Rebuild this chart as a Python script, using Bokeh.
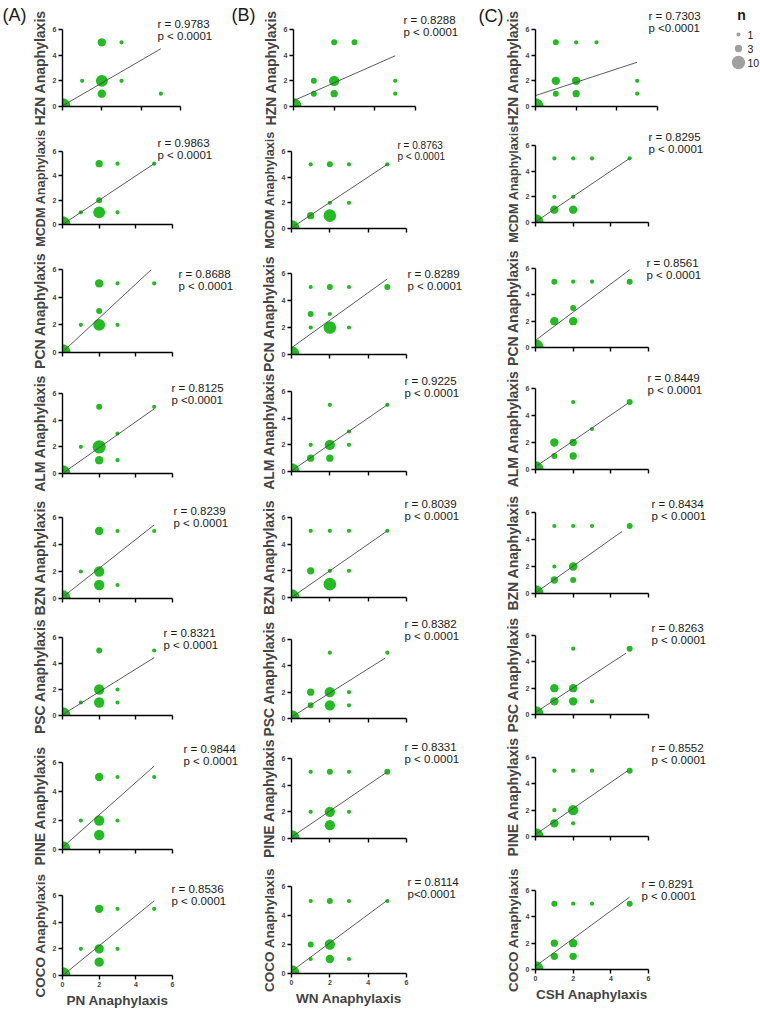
import math

from bokeh.embed import file_html
from bokeh.layouts import column, row
from bokeh.models import ColumnDataSource, FixedTicker, GridBox, Label, Range1d
from bokeh.plotting import figure
from bokeh.resources import INLINE

# ---------------------------------------------------------------- data
ALLERGENS = ["HZN", "MCDM", "PCN", "ALM", "BZN", "PSC", "PINE", "COCO"]
REFERENCES = ["PN", "WN", "CSH"]
PANEL_TAGS = ["(A)", "(B)", "(C)"]
TICKS = [0, 2, 4, 6]
LEGEND_N = [1, 3, 10]

# points as (x score, y score, number of patients)
PN_HZN = [(0, 0, 15), (1, 2, 1), (2, 5, 4), (2, 2, 8), (2, 1, 4), (3, 5, 1), (3, 2, 1), (5, 1, 1)]
PN_MCDM = [(0, 0, 15), (1, 1, 1), (2, 5, 3), (2, 2, 2), (2, 1, 8), (3, 5, 1), (3, 1, 1), (5, 5, 1)]
PN_PCN = [(0, 0, 15), (1, 2, 1), (2, 5, 4), (2, 3, 2), (2, 2, 8), (3, 5, 1), (3, 2, 1), (5, 5, 1)]
PN_ALM = [(0, 0, 15), (1, 2, 1), (2, 5, 2), (2, 2, 10), (2, 1, 4), (3, 3, 1), (3, 1, 1), (5, 5, 1)]
PN_BZN = [(0, 0, 15), (1, 2, 1), (2, 5, 4), (2, 2, 6), (2, 1, 6), (3, 5, 1), (3, 1, 1), (5, 5, 1)]
PN_PSC = [(0, 0, 15), (1, 1, 1), (2, 5, 2), (2, 2, 6), (2, 1, 6), (3, 2, 1), (3, 1, 1), (5, 5, 1)]
PN_PINE = [(0, 0, 15), (1, 2, 1), (2, 5, 4), (2, 2, 6), (2, 1, 6), (3, 5, 1), (3, 2, 1), (5, 5, 1)]
PN_COCO = [(0, 0, 15), (1, 2, 1), (2, 5, 4), (2, 2, 5), (2, 1, 5), (3, 5, 1), (3, 2, 1), (5, 5, 1)]

WN_HZN = [(0, 0, 15), (1, 2, 2), (1, 1, 2), (2, 5, 2), (2, 2, 6), (2, 1, 3), (3, 5, 2), (5, 2, 1), (5, 1, 1)]
WN_MCDM = [(0, 0, 15), (1, 5, 1), (1, 1, 3), (2, 5, 2), (2, 2, 1), (2, 1, 9), (3, 5, 1), (3, 2, 1), (5, 5, 1)]
WN_PCN = [(0, 0, 15), (1, 5, 1), (1, 3, 2), (1, 2, 1), (2, 5, 2), (2, 3, 1), (2, 2, 9), (3, 5, 1), (3, 2, 1), (5, 5, 2)]
WN_ALM = [(0, 0, 15), (1, 2, 1), (1, 1, 3), (2, 5, 1), (2, 2, 6), (2, 1, 3), (3, 3, 1), (3, 2, 1), (5, 5, 1)]
WN_BZN = [(0, 0, 15), (1, 5, 1), (2, 5, 1), (3, 5, 1), (5, 5, 1), (1, 2, 3), (2, 2, 1), (3, 2, 1), (2, 1, 9)]
WN_PSC = [(0, 0, 15), (2, 5, 1), (1, 2, 3), (2, 2, 6), (3, 2, 1), (1, 1, 2), (2, 1, 6), (3, 1, 1), (5, 5, 1)]
WN_PINE = [(0, 0, 15), (1, 5, 1), (2, 5, 2), (3, 5, 1), (5, 5, 2), (1, 2, 1), (2, 2, 6), (3, 2, 1), (2, 1, 6)]
WN_COCO = [(0, 0, 15), (1, 5, 1), (2, 5, 2), (3, 5, 1), (5, 5, 1), (1, 2, 2), (2, 2, 6), (2, 1, 4), (1, 1, 1), (3, 1, 1)]

CSH_HZN = [(0, 0, 15), (1, 5, 2), (2, 5, 1), (3, 5, 1), (1, 2, 4), (1, 1, 2), (2, 2, 4), (2, 1, 3), (5, 2, 1), (5, 1, 1)]
CSH_MCDM = [(0, 0, 15), (1, 5, 1), (2, 5, 1), (3, 5, 1), (5, 5, 1), (1, 2, 1), (2, 2, 1), (1, 1, 4), (2, 1, 4)]
CSH_PCN = [(0, 0, 15), (1, 5, 2), (2, 5, 1), (3, 5, 1), (5, 5, 2), (1, 2, 4), (2, 3, 2), (2, 2, 4)]
CSH_ALM = [(0, 0, 15), (1, 2, 4), (1, 1, 2), (2, 5, 1), (2, 2, 3), (2, 1, 3), (3, 3, 1), (5, 5, 2)]
CSH_BZN = [(0, 0, 15), (1, 5, 1), (2, 5, 1), (3, 5, 1), (5, 5, 2), (1, 2, 1), (2, 2, 4), (1, 1, 3), (2, 1, 2)]
CSH_PSC = [(0, 0, 15), (2, 5, 1), (5, 5, 2), (1, 2, 4), (2, 2, 4), (1, 1, 4), (2, 1, 4), (3, 1, 1)]
CSH_PINE = [(0, 0, 15), (1, 5, 1), (2, 5, 1), (3, 5, 1), (5, 5, 2), (1, 2, 1), (2, 2, 6), (1, 1, 4), (2, 1, 1)]
CSH_COCO = [(0, 0, 15), (1, 5, 2), (2, 5, 1), (3, 5, 1), (5, 5, 2), (1, 2, 3), (1, 1, 3), (2, 2, 4), (2, 1, 3)]

# fitted regression segments (x0, y0, x1, y1), one per allergen
PN_FIT = [(0, 0.05, 5, 4.5), (0.05, 0.05, 5, 5), (0.1, 0.15, 4.85, 6.0), (0.1, 0.1, 5, 4.85),
          (0.1, 0.2, 5, 5.45), (0.1, 0.15, 5, 4.45), (0.05, 0.2, 5, 5.75), (0.1, 0.1, 5, 5.6)]
WN_FIT = [(0, 0.45, 5, 3.95), (0.1, 0.15, 5, 5), (0, 0.5, 5, 5.6), (0.05, 0.1, 5, 5),
          (0.1, 0.1, 5, 5), (0.05, 0.15, 4.9, 4.6), (0.05, 0.15, 5, 5), (0.05, 0.2, 5, 5.05)]
CSH_FIT = [(0, 0.85, 5, 3.45), (0.05, 0.1, 5, 5), (0.05, 0.6, 5, 5.9), (0.1, 0.3, 4.9, 4.9),
           (0.05, 0.1, 4.6, 4.6), (0.05, 0.2, 4.8, 4.65), (0.05, 0.2, 4.9, 5.0), (0, 0.25, 5, 5.5)]

# correlation statistics
PN_R = ["0.9783", "0.9863", "0.8688", "0.8125", "0.8239", "0.8321", "0.9844", "0.8536"]
PN_P = ["p < 0.0001", "p < 0.0001", "p < 0.0001", "p <0.0001", "p  < 0.0001", "p < 0.0001", "p < 0.0001", "p < 0.0001"]
WN_R = ["0.8288", "0.8763", "0.8289", "0.9225", "0.8039", "0.8382", "0.8331", "0.8114"]
WN_P = ["p < 0.0001", "p < 0.0001", "p < 0.0001", "p < 0.0001", "p < 0.0001", "p < 0.0001", "p < 0.0001", "p<0.0001"]
CSH_R = ["0.7303", "0.8295", "0.8561", "0.8449", "0.8434", "0.8263", "0.8552", "0.8291"]
CSH_P = ["p <0.0001", "p < 0.0001", "p < 0.0001", "p < 0.0001", "p < 0.0001", "p < 0.0001", "p < 0.0001", "p < 0.0001"]

POINTS = [
    [PN_HZN, PN_MCDM, PN_PCN, PN_ALM, PN_BZN, PN_PSC, PN_PINE, PN_COCO],
    [WN_HZN, WN_MCDM, WN_PCN, WN_ALM, WN_BZN, WN_PSC, WN_PINE, WN_COCO],
    [CSH_HZN, CSH_MCDM, CSH_PCN, CSH_ALM, CSH_BZN, CSH_PSC, CSH_PINE, CSH_COCO],
]
FITS = [PN_FIT, WN_FIT, CSH_FIT]
R_VALUES = [PN_R, WN_R, CSH_R]
P_TEXTS = [PN_P, WN_P, CSH_P]

# ---------------------------------------------------------------- style / layout
PAGE_W, PAGE_H = 760, 1013
FONT = "Liberation Sans"
GREEN = "#22bb22"
FIT_COLOR = "#4a4a4a"
LEGEND_GREY = "#a0a0a0"
INK = "#1a1a1a"

# plot frames on the page: (left, right, top, bottom) in pixels
FRAMES = [
    [(62, 180, 29, 106), (62, 172, 151, 224), (61, 185, 269, 352), (59, 180, 393, 473),
     (59, 181, 517, 598), (58, 176, 637, 715), (62, 192, 762, 849), (59, 179, 895, 975)],
    [(293, 415, 25, 107), (290, 406, 151, 228), (290, 411, 273, 354), (291, 413, 391, 471),
     (290, 412, 517, 597), (290, 412, 639, 718), (290, 412, 758, 838), (290, 420, 886, 973)],
    [(535, 657, 26, 107), (535, 657, 145, 222), (533, 653, 268, 347), (533, 655, 388, 469),
     (533, 655, 512, 593), (533, 655, 635, 714), (533, 655, 757, 836), (527, 648, 890, 969)],
]
TOP_ROW_H = 125
TOP_ROW_X = [(0, 230), (230, 475), (475, 760)]
COL_X = [(0, 240), (240, 475), (475, 760)]
ROW_EDGES = [
    [125, 250, 371, 496, 617, 740, 869, 1013],
    [125, 252, 372, 494, 618, 739, 862, 1013],
    [125, 246, 368, 491, 613, 735, 862, 1013],
]
# statistics text anchors on the page: (left x, centre y of the r line)
STAT_AT = [
    [(157, 23), (157, 142), (178, 273), (171, 387), (173, 510), (163, 632), (183, 748), (171, 888)],
    [(403, 19), (397, 145), (407, 273), (404, 380), (404, 503), (404, 623), (404, 746), (407, 881)],
    [(648, 15), (648, 136), (646, 262), (647, 377), (651, 503), (651, 627), (651, 747), (641, 883)],
]
TAG_AT = [(2, 14), (231, 14), (478, 15)]
LEGEND_TITLE_AT = (741, 14)
LEGEND_DOT_X = 738
LEGEND_TEXT_X = 747
LEGEND_ROW_Y = [34, 48, 62]
YLABEL_SIZE = ["14px", "12.7px", "14px", "14px", "14px", "14px", "14px", "13.5px"]


def marker_size(n):
    return 4.2 * math.sqrt(n)


def build_panel(ci, ri, canvas):
    cx0, cy0, cx1, cy1 = canvas
    xl, xr, yt, yb = FRAMES[ci][ri]
    p = figure(width=cx1 - cx0, height=cy1 - cy0,
               x_range=Range1d(0, 6), y_range=Range1d(0, 6),
               min_border_left=xl - cx0, min_border_right=cx1 - xr,
               min_border_top=yt - cy0, min_border_bottom=cy1 - yb,
               output_backend="svg", toolbar_location=None, title=None)
    p.grid.visible = False
    p.outline_line_color = None

    for ax in (p.xaxis[0], p.yaxis[0]):
        ax.ticker = FixedTicker(ticks=TICKS)
        ax.minor_tick_line_color = None
        ax.axis_line_width = 1.4
        ax.major_tick_line_width = 1.4
        ax.major_tick_out = 4
        ax.major_tick_in = 0
        ax.major_label_text_font = FONT
        ax.major_label_text_font_style = "bold"
        ax.major_label_text_font_size = "7px"
        ax.major_label_standoff = 2

    yax = p.yaxis[0]
    yax.axis_label = f"{ALLERGENS[ri]} Anaphylaxis"
    yax.axis_label_text_font = FONT
    yax.axis_label_text_font_style = "bold"
    yax.axis_label_text_font_size = YLABEL_SIZE[ri]
    yax.axis_label_standoff = 2

    xax = p.xaxis[0]
    if ri == len(ALLERGENS) - 1:
        xax.axis_label = f"{REFERENCES[ci]} Anaphylaxis"
        xax.axis_label_text_font = FONT
        xax.axis_label_text_font_style = "bold"
        xax.axis_label_text_font_size = "13.5px"
        xax.axis_label_standoff = 3
    else:
        xax.major_label_overrides = {t: "" for t in TICKS}

    pts = POINTS[ci][ri]
    src = ColumnDataSource(data=dict(
        x=[q[0] for q in pts], y=[q[1] for q in pts],
        size=[marker_size(q[2]) for q in pts]))
    p.scatter("x", "y", size="size", source=src, marker="circle",
              fill_color=GREEN, line_color=None)

    x0, y0, x1, y1 = FITS[ci][ri]
    p.line([x0, x1], [y0, y1], line_color=FIT_COLOR, line_width=0.9)
    return p


def page_label(p, x, y, text, size, style="normal", align="left"):
    p.add_layout(Label(x=x, y=y, text=text, text_font=FONT, text_font_size=size,
                       text_font_style=style, text_align=align, text_baseline="middle",
                       text_color=INK))


def build_overlay():
    """Transparent page-sized layer for statistics, panel tags and the size key."""
    p = figure(width=PAGE_W, height=PAGE_H, x_range=Range1d(0, PAGE_W),
               y_range=Range1d(PAGE_H, 0), x_axis_type=None, y_axis_type=None,
               min_border=0, output_backend="svg", toolbar_location=None, title=None)
    p.grid.visible = False
    p.outline_line_color = None
    p.background_fill_color = None
    p.border_fill_color = None

    for ci in range(3):
        for ri in range(len(ALLERGENS)):
            sx, sy = STAT_AT[ci][ri]
            small = (ci == 1 and ri == 1)
            fs = "10px" if small else "11.5px"
            gap = 11 if small else 12.5
            page_label(p, sx, sy, f"r = {R_VALUES[ci][ri]}", fs)
            page_label(p, sx, sy + gap, P_TEXTS[ci][ri], fs)
        tx, ty = TAG_AT[ci]
        page_label(p, tx, ty, PANEL_TAGS[ci], "18px")

    p.scatter([LEGEND_DOT_X] * len(LEGEND_N), LEGEND_ROW_Y,
              size=[marker_size(n) for n in LEGEND_N],
              marker="circle", fill_color=LEGEND_GREY, line_color=None)
    lx, ly = LEGEND_TITLE_AT
    page_label(p, lx, ly, "n", "14px", style="bold", align="center")
    for n, yy in zip(LEGEND_N, LEGEND_ROW_Y):
        page_label(p, LEGEND_TEXT_X, yy, str(n), "10.5px")
    return p


top_figs = []
for ci in range(3):
    a, b = TOP_ROW_X[ci]
    top_figs.append(build_panel(ci, 0, (a, 0, b, TOP_ROW_H)))

cols = []
for ci in range(3):
    a, b = COL_X[ci]
    edges = ROW_EDGES[ci]
    figs = [build_panel(ci, ri, (a, edges[ri - 1], b, edges[ri])) for ri in range(1, 8)]
    cols.append(column(*figs, spacing=0))

panels = column(row(*top_figs, spacing=0), row(*cols, spacing=0), spacing=0)
page = GridBox(children=[(panels, 0, 0), (build_overlay(), 0, 0)])

with open("out.html", "w") as f:
    f.write(file_html(page, INLINE, title="Anaphylaxis score correlations"))
